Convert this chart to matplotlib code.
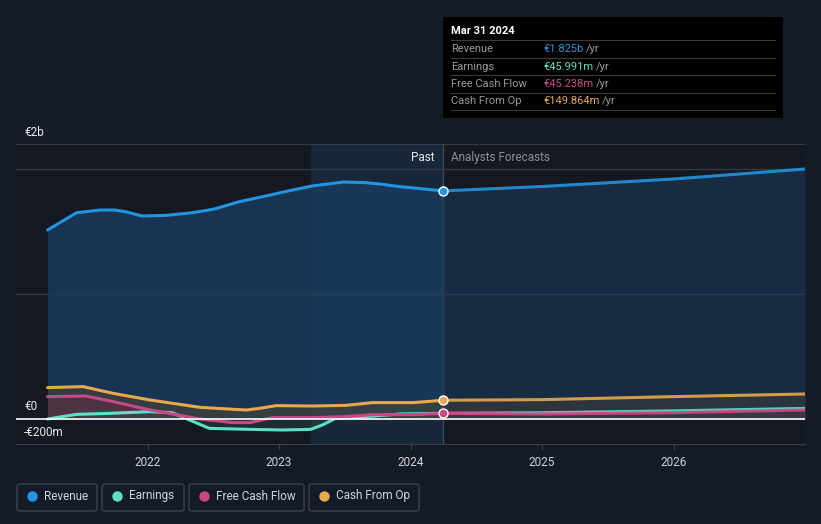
import matplotlib
matplotlib.use("Agg")
import matplotlib.pyplot as plt
from matplotlib.patches import Rectangle, FancyBboxPatch
import numpy as np

# values in billions of euro
rev_t = [2021.24, 2021.46, 2021.64, 2021.75, 2021.83, 2021.96, 2022.14, 2022.34, 2022.5,
         2022.7, 2022.9, 2023.08, 2023.25, 2023.49, 2023.66, 2023.79, 2023.92, 2024.25]
rev_v = [1.512, 1.65, 1.672, 1.672, 1.659, 1.624, 1.629, 1.65, 1.678,
         1.739, 1.784, 1.827, 1.864, 1.896, 1.891, 1.877, 1.859, 1.825]
rev_ft = [2024.25, 2025.0, 2026.0, 2027.0]
rev_fv = [1.825, 1.86, 1.92, 2.0]

cfo_t = [2021.24, 2021.51, 2021.74, 2022.02, 2022.4, 2022.75, 2022.85, 2022.98, 2023.25,
         2023.51, 2023.71, 2024.02, 2024.25]
cfo_v = [0.251, 0.259, 0.205, 0.152, 0.093, 0.072, 0.085, 0.107, 0.104,
         0.109, 0.131, 0.131, 0.150]
cfo_ft = [2024.25, 2025.0, 2026.0, 2027.0]
cfo_fv = [0.150, 0.155, 0.179, 0.2]

fcf_t = [2021.24, 2021.53, 2021.74, 2022.02, 2022.4, 2022.65, 2022.78, 2022.95, 2023.25,
         2023.51, 2023.71, 2024.02, 2024.25]
fcf_v = [0.179, 0.184, 0.139, 0.072, 0.0, -0.029, -0.029, 0.011, 0.011,
         0.019, 0.035, 0.035, 0.045]
fcf_ft = [2024.25, 2025.0, 2026.0, 2027.0]
fcf_fv = [0.045, 0.04, 0.05, 0.072]

earn_t = [2021.24, 2021.46, 2021.71, 2022.02, 2022.19, 2022.32, 2022.47, 2022.78, 2023.03,
          2023.24, 2023.33, 2023.43, 2023.66, 2023.92, 2024.25]
earn_v = [0.0, 0.037, 0.045, 0.059, 0.05, -0.008, -0.075, -0.083, -0.088,
          -0.083, -0.048, 0.005, 0.019, 0.04, 0.046]
earn_ft = [2024.25, 2025.0, 2026.0, 2027.0]
earn_fv = [0.046, 0.05, 0.065, 0.085]

year_ticks = [2022, 2023, 2024, 2025, 2026]
legend_names = ["Revenue", "Earnings", "Free Cash Flow", "Cash From Op"]
tip_labels = ["Revenue", "Earnings", "Free Cash Flow", "Cash From Op"]
tip_values = ["€1.825b", "€45.991m", "€45.238m", "€149.864m"]

C_REV = "#2394df"
C_EARN = "#5ee0c8"
C_FCF = "#c8478a"
C_CFO = "#e8a84e"
BG = "#151b26"

plt.rcParams['font.family'] = ['Roboto', 'DejaVu Sans']

fig = plt.figure(figsize=(8.21, 5.24), dpi=100, facecolor=BG)
W, H = 821, 524
ax = fig.add_axes([16 / W, 1 - 444 / H, (805 - 16) / W, 300 / H])
ax.set_facecolor("#141820")
ax.set_xlim(2021.0, 2027.0)
ax.set_ylim(-0.2, 2.2)

# past region highlight
ax.axvspan(2023.24, 2024.25, color="#1a2c40", alpha=0.8, lw=0, zorder=0)
ax.axvline(2024.25, color="#3b4a5c", lw=1, zorder=1)

for g in [1.0, 2.0]:
    ax.axhline(g, color="#323844", lw=1, zorder=1)
ax.axhline(2.2, color="#3a3f4a", lw=1.2, zorder=1)

series = [
    (rev_t, rev_v, rev_ft, rev_fv, C_REV, "#1a3e63", 0.75),
    (cfo_t, cfo_v, cfo_ft, cfo_fv, C_CFO, "#4a4436", 0.6),
    (fcf_t, fcf_v, fcf_ft, fcf_fv, C_FCF, "#5a2d42", 0.6),
    (earn_t, earn_v, earn_ft, earn_fv, C_EARN, "#2d4d4a", 0.4),
]
for t, v, ft, fv, c, fc, a in series:
    ax.fill_between(t, v, 0, color=fc, alpha=a, lw=0, zorder=2)
    ax.fill_between(ft, fv, 0, color=fc, alpha=a * 0.7, lw=0, zorder=2)

for t, v, ft, fv, c, fc, a in [series[3], series[2], series[1], series[0]]:
    ax.plot(t, v, color=c, lw=2.2, zorder=4, solid_capstyle="round")
    ax.plot(ft, fv, color=c, lw=2.2, zorder=4, alpha=0.9, solid_capstyle="round")

ax.axhline(0, color="white", lw=1.2, zorder=5)

for v, c in [(rev_v[-1], C_REV), (cfo_v[-1], C_CFO), (fcf_v[-1], C_FCF)]:
    ax.plot([2024.25], [v], "o", ms=6.5, mfc=c, mec="white", mew=1.0, zorder=6)

for s in ["top", "right", "left"]:
    ax.spines[s].set_visible(False)
ax.spines["bottom"].set_color("#3a3f4a")
ax.set_yticks([])
ax.set_xticks(year_ticks)
ax.set_xticklabels([str(y) for y in year_ticks])
ax.tick_params(axis="x", colors="#3a3f4a", labelcolor="#d0d3d8", labelsize=8.5, length=4, pad=5)

ax.text(2024.18, 2.09, "Past", color="#e8e8e8", fontsize=8.5, ha="right", va="center")
ax.text(2024.31, 2.09, "Analysts Forecasts", color="#8a8f98", fontsize=8.5, ha="left", va="center")

# y labels as figure text
fig.text(24 / W, 1 - 132 / H, "€2b", color="#e8e8e8", fontsize=8.5, va="center")
fig.text(24 / W, 1 - 407 / H, "€0", color="#e8e8e8", fontsize=8.5, va="center")
fig.text(24 / W, 1 - 432 / H, "-€200m", color="#e8e8e8", fontsize=8.5, va="center")

# tooltip
fig.patches.append(Rectangle((443 / W, 1 - 118 / H), 340 / W, 101 / H,
                             transform=fig.transFigure, fc="black", ec="none", zorder=10))
fig.text(451 / W, 1 - 31 / H, "Mar 31 2024", color="white", fontsize=8, fontweight="bold",
         va="center", zorder=11)
tip_colors = [C_REV, C_EARN, C_FCF, C_CFO]
for i in range(4):
    y0 = 40 + i * 17.5
    fig.add_artist(plt.Line2D([451 / W, 775 / W], [1 - y0 / H, 1 - y0 / H],
                              transform=fig.transFigure, color="#3a3a3a", lw=0.8, zorder=11))
    yc = y0 + 9
    fig.text(451 / W, 1 - yc / H, tip_labels[i], color="#9a9a9a", fontsize=8, va="center", zorder=11)
    t1 = fig.text(543 / W, 1 - yc / H, tip_values[i], color=tip_colors[i], fontsize=8,
                  va="center", zorder=11)
    fig.canvas.draw()
    bb = t1.get_window_extent()
    fig.text(bb.x1 / W + 3 / W, 1 - yc / H, "/yr", color="#9a9a9a", fontsize=8, va="center", zorder=11)
y0 = 40 + 4 * 17.5
fig.add_artist(plt.Line2D([451 / W, 775 / W], [1 - y0 / H, 1 - y0 / H],
                          transform=fig.transFigure, color="#3a3a3a", lw=0.8, zorder=11))

# legend boxes
boxes = [(17, 97), (102, 184), (189, 304), (309, 419)]
for (x0, x1), name, c in zip(boxes, legend_names, tip_colors):
    fig.patches.append(FancyBboxPatch((x0 / W, 1 - 511 / H), (x1 - x0) / W, 27 / H,
                                      boxstyle="round,pad=0,rounding_size=0.004",
                                      transform=fig.transFigure, fc="none", ec="#3d424c", lw=1))
    fig.add_artist(plt.Line2D([(x0 + 15) / W], [1 - 496 / H], marker="o", ms=6.5,
                              color=c, transform=fig.transFigure))
    fig.text((x0 + 27) / W, 1 - 496 / H, name, color="#d0d3d8", fontsize=8.5, va="center")

fig.savefig("out.png", dpi=100, facecolor=BG)
